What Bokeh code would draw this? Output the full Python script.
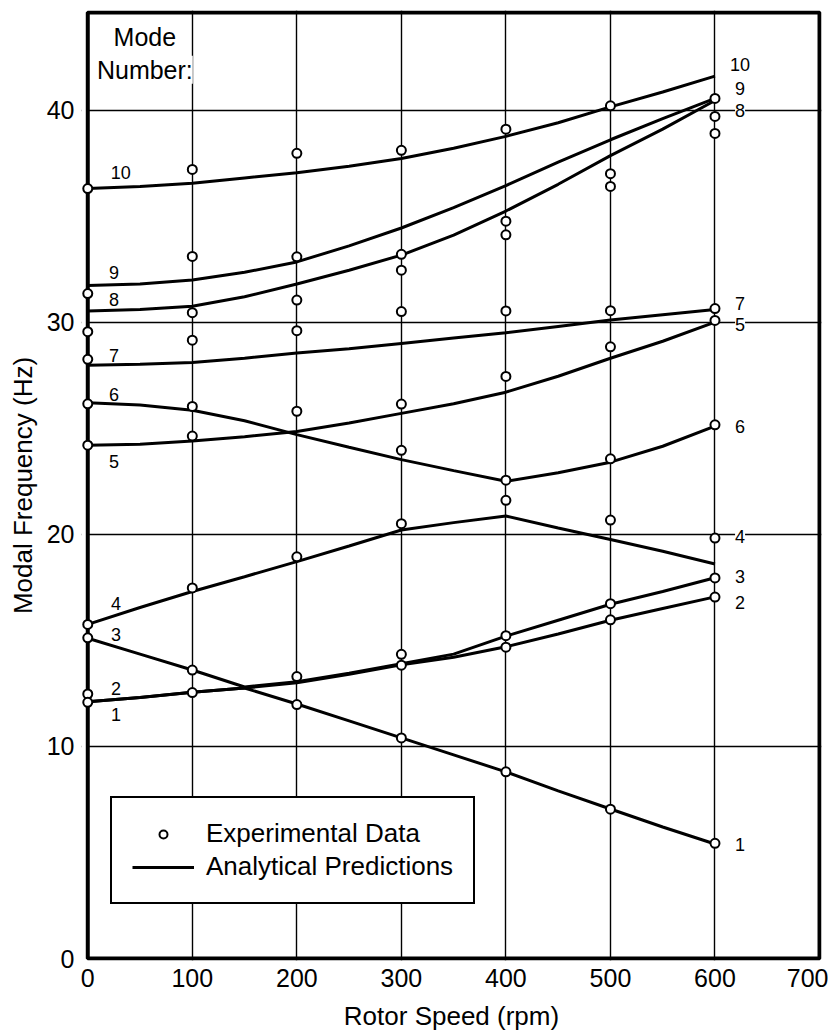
from bokeh.plotting import figure
from bokeh.models import (Range1d, FixedTicker, BoxAnnotation, Label, LabelSet,
                          Legend, LegendItem, ColumnDataSource)
from bokeh.core.properties import value
from bokeh.embed import file_html
from bokeh.resources import INLINE

FONT = "Liberation Sans"

# ---------------- data ----------------
x_ticks = [0, 100, 200, 300, 400, 500, 600, 700]
y_ticks = [0, 10, 20, 30, 40]
x_grid_ticks = [100, 200, 300, 400, 500, 600]
y_grid_ticks = [10, 20, 30, 40]

# analytical predictions (Hz) read at these rotor speeds (rpm)
curve_rpm = [0, 50, 100, 150, 200, 250, 300, 350, 400, 450, 500, 550, 600]
mode1_hz = [12.1, 12.3, 12.55, 12.75, 12.0, 11.2, 10.4, 9.6, 8.8, 7.9, 7.05, 6.2, 5.4]
mode2_hz = [12.1, 12.3, 12.55, 12.75, 13.0, 13.4, 13.85, 14.2, 14.7, 15.3, 15.95, 16.5, 17.05]
mode3_hz = [15.1, 14.35, 13.6, 12.8, 13.05, 13.45, 13.9, 14.35, 15.2, 15.95, 16.7, 17.3, 17.95]
mode4_hz = [15.75, 16.55, 17.3, 18.0, 18.71, 19.45, 20.2, 20.55, 20.86, 20.3, 19.75, 19.2, 18.6]
mode5_hz = [24.2, 24.25, 24.4, 24.6, 24.85, 25.25, 25.7, 26.15, 26.7, 27.45, 28.3, 29.1, 30.0]
mode6_hz = [26.2, 26.1, 25.85, 25.35, 24.7, 24.1, 23.52, 23.0, 22.5, 22.9, 23.4, 24.15, 25.1]
mode7_hz = [27.97, 28.02, 28.1, 28.3, 28.55, 28.75, 29.0, 29.25, 29.5, 29.8, 30.1, 30.35, 30.6]
mode8_hz = [30.53, 30.6, 30.75, 31.2, 31.8, 32.45, 33.16, 34.1, 35.24, 36.5, 37.85, 39.1, 40.45]
mode9_hz = [31.73, 31.8, 31.99, 32.35, 32.84, 33.6, 34.44, 35.4, 36.44, 37.55, 38.6, 39.6, 40.55]
mode10_hz = [36.3, 36.4, 36.55, 36.8, 37.05, 37.35, 37.72, 38.2, 38.76, 39.4, 40.15, 40.85, 41.6]

# experimental data (Hz) measured at each rotor speed
exp_rpm = [0, 100, 200, 300, 400, 500, 600]
exp_at_0 = [36.3, 31.35, 29.55, 28.25, 26.15, 24.2, 15.75, 15.12, 12.47, 12.08]
exp_at_100 = [37.2, 33.1, 30.45, 29.15, 26.03, 24.63, 17.47, 13.6, 12.54]
exp_at_200 = [37.96, 33.08, 31.04, 29.6, 25.8, 18.94, 13.29, 11.97]
exp_at_300 = [38.1, 33.2, 32.45, 30.5, 26.14, 23.96, 20.5, 14.34, 13.83, 10.4]
exp_at_400 = [39.1, 34.76, 34.12, 30.53, 27.44, 22.55, 21.6, 15.22, 14.68, 8.8]
exp_at_500 = [40.2, 37.0, 36.4, 30.54, 28.84, 23.56, 20.67, 16.73, 15.97, 7.04]
exp_at_600 = [40.55, 39.7, 38.9, 30.64, 30.08, 25.16, 19.82, 17.94, 17.04, 5.43]

mode_names = ["1", "2", "3", "4", "5", "6", "7", "8", "9", "10"]

# ---------------- label placement (annotation positions, not data) ----------------
left_label_pos = {"10": (31.6, 37.04), "9": (25, 32.35), "8": (25, 31.06), "7": (25, 28.44),
                  "6": (25, 26.6), "5": (25, 23.44), "4": (27, 16.74), "3": (27, 15.27),
                  "2": (27, 12.74), "1": (27, 11.5)}
right_label_pos = {"10": (624, 42.13), "9": (624, 41.0), "8": (624, 40.0), "7": (624, 30.87),
                   "5": (624, 29.87), "6": (624, 25.1), "4": (624, 19.9), "3": (624, 18.0),
                   "2": (624, 16.8), "1": (624, 5.36)}

# axis extents; the visible box is 0..700 x 0..44.6, the frame is padded a few
# pixels so the heavy border is not clipped
X_MIN, X_MAX = 0, 700
Y_MIN, Y_MAX = 0, 44.6
X_START, X_END = -6, 701.9
Y_START, Y_END = -0.094, 44.694

p = figure(width=828, height=1036, output_backend="svg", toolbar_location=None,
           x_range=Range1d(X_START, X_END), y_range=Range1d(Y_START, Y_END),
           min_border_left=81, min_border_right=7, min_border_top=10, min_border_bottom=76,
           x_axis_label="Rotor Speed (rpm)", y_axis_label="Modal Frequency (Hz)")
p.outline_line_color = None
p.background_fill_color = "white"
p.border_fill_color = "white"

# grid
p.xgrid.ticker = FixedTicker(ticks=x_grid_ticks)
p.ygrid.ticker = FixedTicker(ticks=y_grid_ticks)
for g in (p.xgrid, p.ygrid):
    g.grid_line_color = "black"
    g.grid_line_width = 1.4
    g.grid_line_alpha = 1.0

# white cover left of zero and the heavy frame box
p.add_layout(BoxAnnotation(left=X_START, right=X_MIN, fill_color="white", fill_alpha=1.0,
                           line_color=None, level="underlay"))
p.add_layout(BoxAnnotation(left=X_MIN, right=X_MAX, bottom=Y_MIN, top=Y_MAX, fill_color=None,
                           fill_alpha=0, line_color="black", line_alpha=1.0, line_width=4,
                           level="underlay"))

# axes
p.xaxis.ticker = FixedTicker(ticks=x_ticks)
p.yaxis.ticker = FixedTicker(ticks=y_ticks)
for ax in (p.xaxis, p.yaxis):
    ax.axis_line_color = None
    ax.major_tick_line_color = None
    ax.minor_tick_line_color = None
    ax.major_tick_out = 0
    ax.major_tick_in = 0
    ax.minor_tick_out = 0
    ax.major_label_text_font = FONT
    ax.major_label_text_font_size = "25px"
    ax.major_label_text_color = "black"
    ax.axis_label_text_font = FONT
    ax.axis_label_text_font_size = "26px"
    ax.axis_label_text_font_style = "normal"
    ax.axis_label_text_color = "black"
p.xaxis.major_label_standoff = 8
p.xaxis.axis_label_standoff = 11
p.yaxis.major_label_standoff = 7
p.yaxis.axis_label_standoff = 6

# analytical curves
all_modes = [mode1_hz, mode2_hz, mode3_hz, mode4_hz, mode5_hz,
             mode6_hz, mode7_hz, mode8_hz, mode9_hz, mode10_hz]
curves = p.multi_line(xs=[curve_rpm] * len(all_modes), ys=all_modes,
                      line_color="black", line_width=3)

# experimental circles
exp_lists = [exp_at_0, exp_at_100, exp_at_200, exp_at_300, exp_at_400, exp_at_500, exp_at_600]
ex, ey = [], []
for r, vals in zip(exp_rpm, exp_lists):
    ex += [r] * len(vals)
    ey += vals
circles = p.scatter(x=ex, y=ey, marker="circle", size=9, fill_color="white",
                    line_color="black", line_width=2)

# mode number labels
lx = [left_label_pos[m][0] for m in mode_names] + [right_label_pos[m][0] for m in mode_names]
ly = [left_label_pos[m][1] for m in mode_names] + [right_label_pos[m][1] for m in mode_names]
lt = mode_names + mode_names
lsrc = ColumnDataSource(dict(x=lx, y=ly, text=lt))
p.add_layout(LabelSet(x="x", y="y", text="text", source=lsrc, text_font=value(FONT),
                      text_font_size=value("18px"), text_color="black", text_align="center",
                      text_baseline="middle", background_fill_color="white"))

for txt, yy in (("Mode", 43.45), ("Number:", 41.9)):
    p.add_layout(Label(x=54.6, y=yy, text=txt, text_font=FONT, text_font_size="25px",
                       text_color="black", text_align="center", text_baseline="middle",
                       background_fill_color="white"))

legend = Legend(items=[LegendItem(label="Experimental Data", renderers=[circles]),
                       LegendItem(label="Analytical Predictions", renderers=[curves])],
                location=(29, 56), label_text_font=FONT, label_text_font_size="26px",
                label_text_color="black",
                glyph_width=62, glyph_height=20, label_standoff=12, padding=20, spacing=2,
                border_line_color="black", border_line_width=2, border_line_alpha=1.0,
                background_fill_color="white", background_fill_alpha=1.0, margin=0)
p.add_layout(legend)

open("out.html", "w").write(file_html(p, INLINE))
